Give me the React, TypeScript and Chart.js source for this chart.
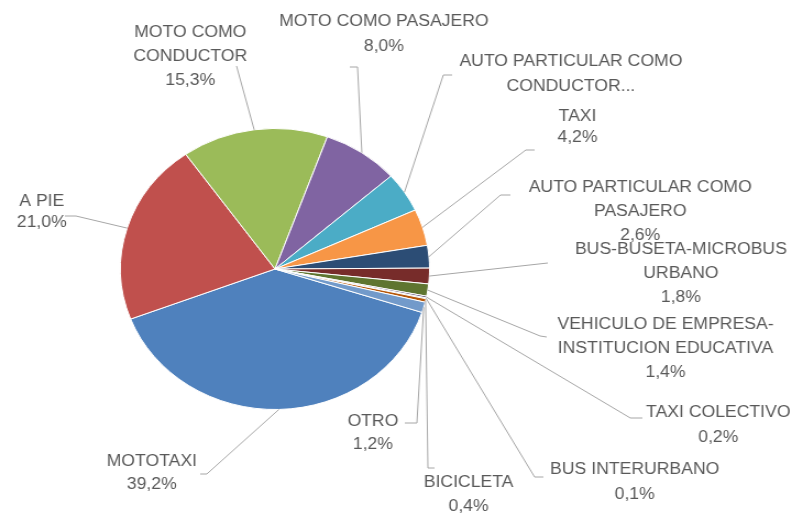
import React, { useEffect, useRef } from "react";
import { Chart, registerables } from "chart.js";

Chart.register(...registerables);

const categories = [
  "MOTOTAXI",
  "A PIE",
  "MOTO COMO CONDUCTOR",
  "MOTO COMO PASAJERO",
  "AUTO PARTICULAR COMO CONDUCTOR",
  "TAXI",
  "AUTO PARTICULAR COMO PASAJERO",
  "BUS-BUSETA-MICROBUS URBANO",
  "VEHICULO DE EMPRESA-INSTITUCION EDUCATIVA",
  "TAXI COLECTIVO",
  "BUS INTERURBANO",
  "BICICLETA",
  "OTRO",
];

const values = [39.2, 21.0, 15.3, 8.0, 4.6, 4.2, 2.6, 1.8, 1.4, 0.2, 0.1, 0.4, 1.2];

const labelLines = [
  ["MOTOTAXI"],
  ["A PIE"],
  ["MOTO COMO", "CONDUCTOR"],
  ["MOTO COMO PASAJERO"],
  ["AUTO PARTICULAR COMO", "CONDUCTOR..."],
  ["TAXI"],
  ["AUTO PARTICULAR COMO", "PASAJERO"],
  ["BUS-BUSETA-MICROBUS", "URBANO"],
  ["VEHICULO DE EMPRESA-", "INSTITUCION EDUCATIVA"],
  ["TAXI COLECTIVO"],
  ["BUS INTERURBANO"],
  ["BICICLETA"],
  ["OTRO"],
];

const showPercent = [true, true, true, true, false, true, true, true, true, true, true, true, true];

const colors = [
  "#4F81BD", "#C0504D", "#9BBB59", "#8064A2", "#4BACC6", "#F79646",
  "#2C4D75", "#772C2A", "#5F7530", "#4D3B62", "#276A7C", "#B65708", "#729ACA",
];

// label layout (canvas units): text centre x, first line y, line height, leader start, leader elbow
const labelLayout = [
  { x: 138, y: 462, lh: 23, start: [182, 474], elbow: [188, 474] },
  { x: 38, y: 202, lh: 21, start: [59, 216], elbow: [69, 216] },
  { x: 173, y: 33, lh: 24, start: [215, 66], elbow: [215, 66] },
  { x: 349, y: 22, lh: 25, start: [318, 67], elbow: [325, 67] },
  { x: 519, y: 62, lh: 25, start: [411, 75], elbow: [403, 75] },
  { x: 525, y: 117, lh: 21, start: [486, 150], elbow: [478, 150] },
  { x: 582, y: 188, lh: 24, start: [464, 195], elbow: [455, 195] },
  { x: 619, y: 250, lh: 24, start: [498, 263], elbow: [498, 263] },
  { x: 605, y: 325, lh: 24, start: [497, 337], elbow: [491, 336] },
  { x: 653, y: 413, lh: 25, start: [584, 418], elbow: [573, 418] },
  { x: 577, y: 470, lh: 25, start: [494, 477], elbow: [486, 477] },
  { x: 426, y: 483, lh: 24, start: [395, 468], elbow: [389, 468] },
  { x: 339, y: 422, lh: 23, start: [368, 423], elbow: [379, 423] },
];

const fmtPct = (v: number) => v.toFixed(1).replace(".", ",") + "%";

const labelPlugin = {
  id: "pieLabels",
  afterDraw(chart: any) {
    const ctx = chart.ctx;
    const meta = chart.getDatasetMeta(0);
    ctx.save();
    meta.data.forEach((arc: any, i: number) => {
      const p = arc.getProps(["x", "y", "startAngle", "endAngle", "outerRadius"], true);
      const mid = (p.startAngle + p.endAngle) / 2;
      const ex = p.x + Math.cos(mid) * p.outerRadius;
      const ey = p.y + Math.sin(mid) * p.outerRadius;
      const L = labelLayout[i];
      ctx.strokeStyle = "#A6A6A6";
      ctx.lineWidth = 1;
      ctx.beginPath();
      ctx.moveTo(L.start[0], L.start[1]);
      ctx.lineTo(L.elbow[0], L.elbow[1]);
      ctx.lineTo(ex, ey);
      ctx.stroke();

      const lines = [...labelLines[i]];
      if (showPercent[i]) lines.push(fmtPct(values[i]));
      ctx.fillStyle = "#595959";
      ctx.font = "16px 'Liberation Sans', Arial, sans-serif";
      ctx.textAlign = "center";
      ctx.textBaseline = "middle";
      lines.forEach((t, k) => ctx.fillText(t, L.x, L.y + k * L.lh));
    });
    ctx.restore();
  },
};

export default function App() {
  const ref = useRef<HTMLCanvasElement | null>(null);
  useEffect(() => {
    document.body.style.margin = "0";
    const canvas = ref.current!;
    const chart = new Chart(canvas, {
      type: "pie",
      data: {
        labels: categories,
        datasets: [
          {
            data: values,
            backgroundColor: colors,
            borderColor: "#FFFFFF",
            borderWidth: 1,
          },
        ],
      },
      options: {
        responsive: false,
        animation: false,
        devicePixelRatio: 1,
        rotation: 108,
        layout: { padding: { left: 109, right: 329, top: 128, bottom: 104 } },
        plugins: { legend: { display: false }, tooltip: { enabled: false } },
      },
      plugins: [labelPlugin],
    });
    return () => chart.destroy();
  }, []);
  return (
    <canvas
      ref={ref}
      width={720}
      height={514}
      style={{ width: "792px", height: "514px", display: "block" }}
    />
  );
}
